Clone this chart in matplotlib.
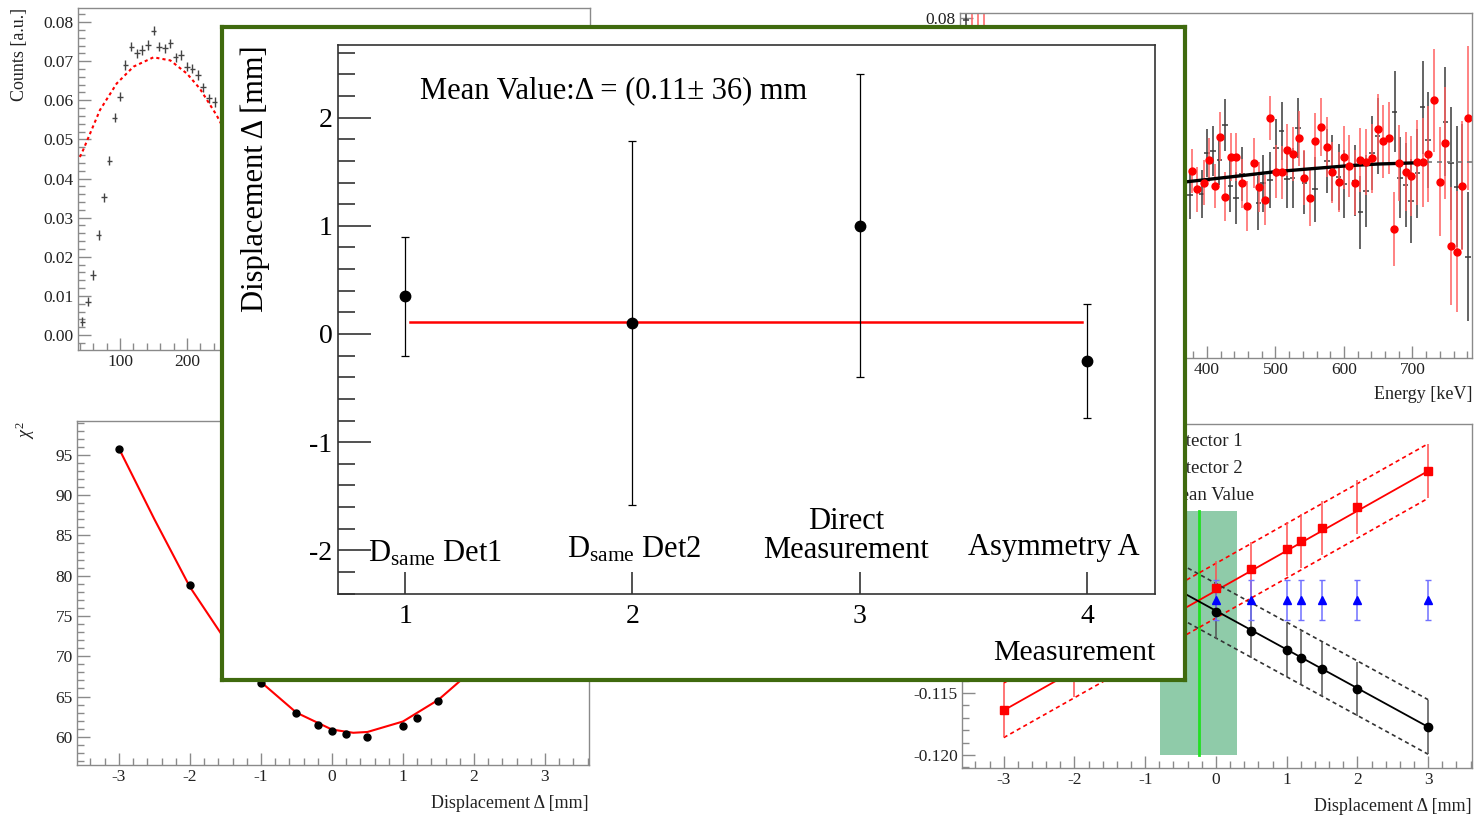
import matplotlib
matplotlib.use("Agg")
import matplotlib.pyplot as plt
from matplotlib.ticker import MultipleLocator

# ---------------- data ----------------
# top-left panel: counts spectrum
tl_energy = [44, 52, 60, 68, 76, 84, 92, 100, 108, 117, 125, 133, 142, 150, 158,
             167, 175, 183, 191, 200, 208, 216, 224, 233, 241]
tl_counts = [0.0034, 0.0085, 0.0153, 0.0256, 0.0352, 0.0446, 0.0556, 0.0609, 0.0690,
             0.0737, 0.0720, 0.0729, 0.0741, 0.0778, 0.0737, 0.0733, 0.0746, 0.0710,
             0.0716, 0.0686, 0.0681, 0.0665, 0.0633, 0.0605, 0.0596]
tl_fit_energy = [40, 45, 70, 95, 120, 150, 175, 200, 219, 244, 260]
tl_fit_counts = [0.0455, 0.0473, 0.0575, 0.0643, 0.0686, 0.0710, 0.0702, 0.0668,
                 0.0630, 0.0562, 0.0510]

# top-right panel: spectrum (red = det 2, black = det 1)
tr_red_E = [57, 66, 74, 378, 386, 395, 403, 411, 419, 427, 435, 443, 451, 459, 468, 476,
            484, 492, 501, 509, 517, 525, 534, 542, 550, 558, 566, 575, 583, 592,
            600, 608, 616, 624, 632, 641, 649, 657, 665, 673, 681, 690, 698, 706,
            715, 723, 731, 740, 748, 756, 765, 773, 781]
tr_red_y = [0.070, 0.072, 0.068, 0.0420, 0.0374, 0.0391, 0.0447, 0.0383, 0.0505, 0.0356, 0.0454,
            0.0454, 0.0389, 0.0333, 0.0439, 0.0379, 0.0348, 0.0551, 0.0418, 0.0416,
            0.0472, 0.0462, 0.0501, 0.0403, 0.0352, 0.0493, 0.0530, 0.0479, 0.0416,
            0.0393, 0.0454, 0.0432, 0.0391, 0.0447, 0.0443, 0.0451, 0.0523, 0.0493,
            0.0501, 0.0275, 0.0439, 0.0418, 0.0407, 0.0441, 0.0441, 0.0462, 0.0595,
            0.0393, 0.0489, 0.0234, 0.0219, 0.0383, 0.0551]
tr_red_err = [0.015, 0.015, 0.015, 0.0055, 0.0055, 0.0055, 0.0055, 0.0055, 0.0060, 0.0060, 0.0060,
              0.0060, 0.0060, 0.0062, 0.0062, 0.0062, 0.0062, 0.0055, 0.0065, 0.0065,
              0.0065, 0.0068, 0.0068, 0.0068, 0.0070, 0.0070, 0.0072, 0.0075, 0.0075,
              0.0075, 0.0078, 0.0078, 0.0080, 0.0080, 0.0082, 0.0085, 0.0088, 0.0090,
              0.0090, 0.0092, 0.0095, 0.0098, 0.0100, 0.0105, 0.0110, 0.0120, 0.0128,
              0.0135, 0.0140, 0.0147, 0.0150, 0.0160, 0.0178]
tr_blk_E = [48, 375, 392, 400, 409, 418, 426, 434, 442, 451, 475, 482, 492, 501, 509, 517,
            525, 533, 542, 558, 575, 583, 592, 600, 616, 624, 632, 641, 649, 674,
            682, 690, 698, 707, 715, 723, 748, 756, 765, 773, 781]
tr_blk_y = [0.0795, 0.0360, 0.0362, 0.0465, 0.0470, 0.0447, 0.0534, 0.0383, 0.0352, 0.0412,
            0.0340, 0.0389, 0.0398, 0.0477, 0.0520, 0.0400, 0.0402, 0.0527, 0.0391,
            0.0374, 0.0445, 0.0427, 0.0404, 0.0388, 0.0395, 0.0317, 0.0370, 0.0465,
            0.0507, 0.0567, 0.0403, 0.0385, 0.0345, 0.0414, 0.0578, 0.0497, 0.0542,
            0.0439, 0.0381, 0.0381, 0.0207]
tr_blk_err = [0.002, 0.0060, 0.0060, 0.0060, 0.0062, 0.0062, 0.0065, 0.0065, 0.0065, 0.0068,
              0.0068, 0.0070, 0.0070, 0.0072, 0.0072, 0.0072, 0.0075, 0.0075, 0.0078,
              0.0080, 0.0080, 0.0082, 0.0082, 0.0085, 0.0088, 0.0090, 0.0090, 0.0092,
              0.0095, 0.0100, 0.0100, 0.0105, 0.0105, 0.0110, 0.0115, 0.0120, 0.0135,
              0.0140, 0.0150, 0.0155, 0.0160]
tr_fit_E = [371, 450, 500, 550, 608, 650, 706]
tr_fit_y = [0.0393, 0.0408, 0.0418, 0.0425, 0.0433, 0.0437, 0.0440]
tr_ext_E = [706, 790]
tr_ext_y = [0.0441, 0.0441]

# bottom-left panel: chi2 scan
bl_disp = [-3, -2, -1, -0.5, -0.2, 0, 0.2, 0.5, 1, 1.2, 1.5]
bl_chi2 = [95.7, 78.9, 66.7, 62.9, 61.5, 60.7, 60.4, 60.0, 61.4, 62.3, 64.4]
bl_fit_disp = [-3, -2.5, -2, -1.5, -1, -0.5, 0, 0.3, 0.5, 1, 1.5, 1.8, 2.2]
bl_fit_chi2 = [95.8, 87.0, 78.6, 72.0, 66.8, 63.0, 60.9, 60.5, 60.6, 61.9, 64.6, 66.9, 70.5]

# bottom-right panel: asymmetry vs displacement
br_red_x = [-3, -2, -1, 0, 0.5, 1, 1.2, 1.5, 2, 3]
br_red_y = [-0.11637, -0.1131, -0.1098, -0.10653, -0.1050, -0.10339, -0.10274,
            -0.10169, -0.1000, -0.0971]
br_blk_x = [-3, -2, -1, 0, 0.5, 1, 1.2, 1.5, 2, 3]
br_blk_y = [-0.0992, -0.1022, -0.1053, -0.10847, -0.1100, -0.11153, -0.11218,
            -0.11306, -0.11468, -0.11774]
br_err = 0.0022
br_blue_x = [0, 0.5, 1, 1.2, 1.5, 2, 3]
br_blue_y = [-0.1075, -0.1075, -0.1075, -0.1075, -0.1075, -0.1075, -0.1075]
br_blue_err = 0.0016
br_fit_x = [-3, 3]
br_red_fit = [-0.1164, -0.0971]
br_blk_fit = [-0.0990, -0.11774]
br_band = [-0.79, 0.30]
br_band_top = -0.1003
br_mean = -0.24
br_legend = ["Detector 1", "Detector 2", "Mean Value"]

# inset: displacement per measurement
meas = [1, 2, 3, 4]
meas_disp = [0.35, 0.10, 1.00, -0.25]
meas_err = [0.55, 1.68, 1.40, 0.53]
meas_labels = [r"D$_{\rm same}$ Det1", r"D$_{\rm same}$ Det2",
               "Direct\nMeasurement", "Asymmetry A"]
mean_value = 0.11
mean_range = [1.02, 3.98]

# ---------------- figure ----------------
W, H = 1476, 817
plt.rcParams['font.family'] = ['Liberation Serif', 'DejaVu Serif']
plt.rcParams['mathtext.fontset'] = 'custom'
plt.rcParams['mathtext.rm'] = 'Liberation Serif'
plt.rcParams['mathtext.it'] = 'Liberation Serif:italic'
plt.rcParams['mathtext.bf'] = 'Liberation Serif:bold'
plt.rcParams['axes.unicode_minus'] = False

fig = plt.figure(figsize=(W / 100, H / 100), dpi=100)


def px_axes(x0, y0, x1, y1):
    return fig.add_axes([x0 / W, 1 - y1 / H, (x1 - x0) / W, (y1 - y0) / H])


GRAY = '#8a8a8a'


def root_style(ax):
    for s in ax.spines.values():
        s.set_color(GRAY)
        s.set_linewidth(1.0)
    ax.tick_params(which='both', direction='in', color=GRAY, labelsize=12.5,
                   labelcolor='#222222', top=False, right=False, width=1.0, pad=3)
    ax.tick_params(which='major', length=9)
    ax.tick_params(which='minor', length=5)


# top-left
ax1 = px_axes(78, 8, 590, 350)
root_style(ax1)
ax1.errorbar(tl_energy, tl_counts, xerr=4.1, yerr=0.0012, fmt='none',
             ecolor='#444444', elinewidth=1.0)
ax1.plot(tl_fit_energy, tl_fit_counts, color='red', lw=1.5, ls=(0, (1.5, 1.5)))
ax1.set_xlim(37.3, 801)
ax1.set_ylim(-0.00383, 0.0836)
ax1.xaxis.set_minor_locator(MultipleLocator(20))
ax1.yaxis.set_minor_locator(MultipleLocator(0.002))
ax1.set_yticks([0, 0.01, 0.02, 0.03, 0.04, 0.05, 0.06, 0.07, 0.08])
ax1.set_yticklabels(['0.00', '0.01', '0.02', '0.03', '0.04', '0.05', '0.06', '0.07', '0.08'])
ax1.set_xticks([100, 200])
ax1.set_xticklabels(['100', '200'])
fig.text(20 / W, 1 - 8 / H, 'Counts [a.u.]', rotation=90, ha='center', va='top',
         fontsize=13, color='#222222')

# top-right
ax2 = px_axes(960, 13, 1472, 358)
root_style(ax2)
ax2.errorbar(tr_blk_E, tr_blk_y, xerr=4.0, yerr=tr_blk_err, fmt='none',
             ecolor='#3a3a3a', elinewidth=1.1)
ax2.errorbar(tr_red_E, tr_red_y, yerr=tr_red_err, fmt='o', color='red', ms=5,
             ecolor='#ff6060', elinewidth=1.1, mec='red')
ax2.plot(tr_fit_E, tr_fit_y, color='black', lw=2.4)
ax2.plot(tr_ext_E, tr_ext_y, color='#777777', lw=1.2, ls=(0, (3, 3)))
ax2.set_xlim(39.4, 786.9)
ax2.set_ylim(-0.00447, 0.0812)
ax2.set_xticks([400, 500, 600, 700])
ax2.set_xticklabels(['400', '500', '600', '700'])
ax2.xaxis.set_minor_locator(MultipleLocator(20))
ax2.set_yticks([0.08])
ax2.set_yticklabels(['0.08'])
ax2.set_xlabel('Energy [keV]', fontsize=13, loc='right', color='#222222', labelpad=6)

# bottom-left
ax3 = px_axes(77, 421, 589, 765)
root_style(ax3)
ax3.plot(bl_fit_disp, bl_fit_chi2, color='red', lw=1.5)
ax3.plot(bl_disp, bl_chi2, 'o', color='black', ms=5)
ax3.set_xlim(-3.59, 3.62)
ax3.set_ylim(56.5, 99.2)
ax3.set_xticks([-3, -2, -1, 0, 1, 2, 3])
ax3.set_xticklabels(['-3', '-2', '-1', '0', '1', '2', '3'])
ax3.xaxis.set_minor_locator(MultipleLocator(0.2))
ax3.set_yticks([60, 65, 70, 75, 80, 85, 90, 95])
ax3.set_yticklabels(['60', '65', '70', '75', '80', '85', '90', '95'])
ax3.yaxis.set_minor_locator(MultipleLocator(1))
ax3.set_xlabel('Displacement Δ [mm]', fontsize=13, loc='right', color='#222222', labelpad=7)
fig.text(25 / W, 1 - 421 / H, r'$\chi^{2}$', rotation=90, ha='center', va='top',
         fontsize=13, color='#222222')

# bottom-right
ax4 = px_axes(962, 424, 1472, 768)
root_style(ax4)
ax4.fill_between(br_band, -0.120, br_band_top, color='#8fcba9', lw=0, zorder=1)
ax4.plot([br_mean, br_mean], [-0.120, br_band_top], color='#22e022', lw=2, zorder=2)
ax4.plot(br_fit_x, br_red_fit, color='red', lw=1.3, zorder=3)
ax4.plot(br_fit_x, [v + br_err for v in br_red_fit], color='red', lw=1.2,
         ls=(0, (2.5, 2)), zorder=3)
ax4.plot(br_fit_x, [v - br_err for v in br_red_fit], color='red', lw=1.2,
         ls=(0, (2.5, 2)), zorder=3)
ax4.plot(br_fit_x, br_blk_fit, color='black', lw=1.3, zorder=3)
ax4.plot(br_fit_x, [v + br_err for v in br_blk_fit], color='#333333', lw=1.2,
         ls=(0, (2.5, 2)), zorder=3)
ax4.plot(br_fit_x, [v - br_err for v in br_blk_fit], color='#333333', lw=1.2,
         ls=(0, (2.5, 2)), zorder=3)
ax4.errorbar(br_red_x, br_red_y, yerr=br_err, fmt='s', color='red', ms=6,
             ecolor='#ff5050', elinewidth=1.1, zorder=4)
ax4.errorbar(br_blk_x, br_blk_y, yerr=br_err, fmt='o', color='black', ms=6,
             ecolor='#555555', elinewidth=1.1, zorder=4)
ax4.errorbar(br_blue_x, br_blue_y, yerr=br_blue_err, fmt='^', color='blue', ms=6,
             ecolor='#7070ff', elinewidth=1.1, capsize=2, zorder=4)
ax4.set_xlim(-3.59, 3.62)
ax4.set_ylim(-0.12105, -0.09331)
ax4.set_xticks([-3, -2, -1, 0, 1, 2, 3])
ax4.set_xticklabels(['-3', '-2', '-1', '0', '1', '2', '3'])
ax4.xaxis.set_minor_locator(MultipleLocator(0.2))
ax4.set_yticks([-0.120, -0.115])
ax4.set_yticklabels(['-0.120', '-0.115'])
ax4.yaxis.set_minor_locator(MultipleLocator(0.001))
ax4.set_xlabel('Displacement Δ [mm]', fontsize=13, loc='right', color='#222222', labelpad=7)
for i, lab in enumerate(br_legend):
    fig.text(1164 / W, 1 - (441 + 27 * i) / H, lab, ha='left', va='center',
             fontsize=13.5, color='#222222')

# inset frame
frame = px_axes(222, 27, 1185, 680)
frame.set_zorder(5)
frame.set_facecolor('white')
frame.set_xticks([])
frame.set_yticks([])
for s in frame.spines.values():
    s.set_color('#3f6a0e')
    s.set_linewidth(3.0)

# inset plot
axi = px_axes(338, 45, 1155, 594)
axi.set_zorder(6)
axi.set_facecolor('none')
for s in axi.spines.values():
    s.set_color('#333333')
    s.set_linewidth(1.2)
axi.plot(mean_range, [mean_value, mean_value], color='red', lw=1.8, zorder=2)
axi.errorbar(meas, meas_disp, yerr=meas_err, fmt='o', color='black', ms=7.5,
             ecolor='black', elinewidth=0.9, capsize=2.8, capthick=0.9, zorder=3)
axi.set_xlim(0.705, 4.299)
axi.set_ylim(-2.403, 2.671)
axi.set_xticks(meas)
axi.set_xticklabels(['1', '2', '3', '4'])
axi.yaxis.set_minor_locator(MultipleLocator(0.2))
axi.set_yticks([-2, -1, 0, 1, 2])
axi.set_yticklabels(['-2', '-1', '0', '1', '2'])
axi.tick_params(which='both', direction='in', labelsize=20, color='#222222',
                top=False, right=False, width=1.1)
axi.tick_params(axis='y', which='major', length=24, pad=4)
axi.tick_params(axis='y', which='minor', length=12)
axi.tick_params(axis='x', which='major', length=16, pad=7)
axi.set_xlabel('Measurement', fontsize=21.5, loc='right', labelpad=8)
axi.set_ylabel('Displacement Δ [mm]', fontsize=22, loc='top', labelpad=28)

axi.text(1.066, 2.246, 'Mean Value:Δ = (0.11± 36) mm', fontsize=22,
         ha='left', va='center')
axi.text(0.837, -2.107, meas_labels[0], fontsize=22, ha='left', va='baseline')
axi.text(1.713, -2.07, meas_labels[1], fontsize=22, ha='left', va='baseline')
axi.text(2.94, -2.07, meas_labels[2], fontsize=22, ha='center', va='baseline',
         linespacing=1.0)
axi.text(3.477, -2.04, meas_labels[3], fontsize=22, ha='left', va='baseline')

fig.savefig('out.png', dpi=100)
